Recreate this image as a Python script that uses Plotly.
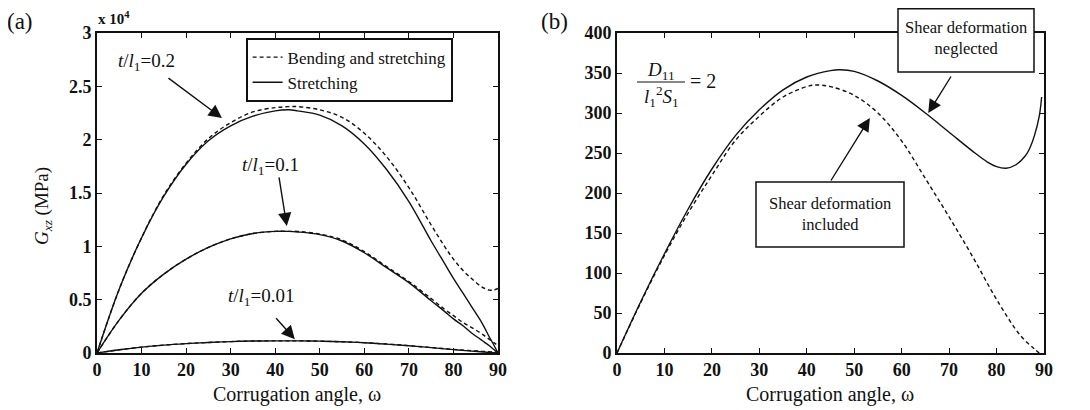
import plotly.graph_objects as go

# ---------------- data (panel a: G_xz in units of 10^4 MPa) ----------------
angle_a = [0, 5, 10, 15, 20, 25, 30, 35, 40, 43, 45, 50, 55, 60, 65, 70, 75, 78, 80, 82, 84,
           86, 87, 88, 89, 90]

stretch_02 = [0, 0.60, 1.08, 1.47, 1.77, 1.99, 2.13, 2.22, 2.27, 2.28, 2.27, 2.23, 2.13, 1.96,
              1.72, 1.42, 1.05, 0.84, 0.70, 0.57, 0.44, 0.31, 0.235, 0.155, 0.08, 0]
bend_02 = [0, 0.60, 1.08, 1.48, 1.78, 2.01, 2.16, 2.26, 2.30, 2.31, 2.31, 2.28, 2.21, 2.06,
           1.84, 1.55, 1.20, 1.00, 0.88, 0.78, 0.70, 0.63, 0.605, 0.59, 0.59, 0.605]

stretch_01 = [0, 0.31, 0.56, 0.74, 0.88, 0.99, 1.07, 1.12, 1.14, 1.14, 1.135, 1.11, 1.05, 0.94,
              0.80, 0.66, 0.49, 0.39, 0.32, 0.26, 0.19, 0.13, 0.10, 0.07, 0.035, 0]
bend_01 = [0, 0.31, 0.56, 0.74, 0.88, 0.99, 1.07, 1.12, 1.14, 1.14, 1.14, 1.115, 1.06, 0.95,
           0.81, 0.67, 0.51, 0.41, 0.35, 0.29, 0.24, 0.19, 0.16, 0.13, 0.10, 0.07]

stretch_001 = [0, 0.030, 0.055, 0.074, 0.088, 0.099, 0.107, 0.112, 0.114, 0.114, 0.114, 0.111,
               0.105, 0.096, 0.083, 0.068, 0.050, 0.039, 0.032, 0.025, 0.018, 0.012, 0.009,
               0.006, 0.003, 0]
bend_001 = [0, 0.030, 0.055, 0.074, 0.088, 0.099, 0.107, 0.112, 0.114, 0.114, 0.114, 0.111,
            0.105, 0.097, 0.084, 0.069, 0.051, 0.041, 0.034, 0.028, 0.022, 0.017, 0.014,
            0.012, 0.010, 0.008]

# ---------------- data (panel b) ----------------
angle_b_neg = [0, 5, 10, 15, 20, 25, 30, 35, 40, 45, 47, 50, 55, 60, 65, 70, 75, 78, 80, 82,
               84, 86, 87, 88, 89, 89.5]
shear_neglected = [0, 64, 124, 180, 230, 272, 304, 329, 345, 353, 354, 352, 340, 322, 300, 276,
                   252, 239, 233, 231, 235, 246, 256, 272, 296, 320]

angle_b_inc = [0, 5, 10, 15, 20, 25, 30, 35, 40, 42, 45, 50, 55, 60, 65, 70, 75, 80, 85, 88, 89]
shear_included = [0, 63, 122, 175, 222, 266, 296, 320, 333, 335, 333, 322, 300, 265, 218, 170,
                  120, 67, 22, 5, 0]

# ---------------- tick labels ----------------
x_ticks = [0, 10, 20, 30, 40, 50, 60, 70, 80, 90]
x_tick_labels = ["0", "10", "20", "30", "40", "50", "60", "70", "80", "90"]
ya_ticks = [0, 0.5, 1, 1.5, 2, 2.5, 3]
ya_tick_labels = ["0", "0.5", "1", "1.5", "2", "2.5", "3"]
yb_ticks = [0, 50, 100, 150, 200, 250, 300, 350, 400]
yb_tick_labels = ["0", "50", "100", "150", "200", "250", "300", "350", "400"]

FONT = "Liberation Serif, Times New Roman, serif"
BLACK = "#111111"

fig = go.Figure()

solid = dict(color=BLACK, width=1.4)
dashed = dict(color=BLACK, width=1.4, dash="4px,3px")

# panel a traces
fig.add_trace(go.Scatter(x=angle_a, y=bend_02, mode="lines", line=dashed, line_shape="spline",
                         name="Bending and stretching", showlegend=True, legendrank=1))
fig.add_trace(go.Scatter(x=angle_a, y=stretch_02, mode="lines", line=solid, line_shape="spline",
                         name="Stretching", showlegend=True, legendrank=2))
for ys, ln in [(bend_01, dashed), (stretch_01, solid), (bend_001, dashed), (stretch_001, solid)]:
    fig.add_trace(go.Scatter(x=angle_a, y=ys, mode="lines", line=ln, line_shape="spline",
                             showlegend=False))

# panel b traces
fig.add_trace(go.Scatter(x=angle_b_neg, y=shear_neglected, mode="lines", line=solid,
                         line_shape="spline", xaxis="x2", yaxis="y2", showlegend=False))
fig.add_trace(go.Scatter(x=angle_b_inc, y=shear_included, mode="lines", line=dashed,
                         line_shape="spline", xaxis="x2", yaxis="y2", showlegend=False))

# the page body has an 8px margin: lay the figure out in screen pixels minus that offset
OFF = 8
W, H = 1090 - OFF, 410 - OFF


def px(x):
    return (x - OFF) / W


def py(y):
    return 1 - (y - OFF) / H


def bold(labels):
    return ["<b>" + s + "</b>" for s in labels]


ydom = [py(353), py(33)]
axis_common = dict(showline=True, linecolor=BLACK, linewidth=1.6, mirror="ticks",
                   ticks="inside", ticklen=5, tickwidth=1.3, tickcolor=BLACK,
                   showgrid=False, zeroline=False, automargin=False, tickmode="array",
                   tickfont=dict(family=FONT, size=18, color=BLACK))

fig.update_layout(
    width=W, height=H, margin=dict(l=0, r=0, t=0, b=0, pad=0, autoexpand=False),
    paper_bgcolor="white", plot_bgcolor="white",
    xaxis=dict(domain=[px(97), px(498)], range=[0, 90], anchor="y", tickvals=x_ticks,
               ticktext=bold(x_tick_labels), **axis_common),
    yaxis=dict(domain=ydom, range=[0, 3], anchor="x", tickvals=ya_ticks,
               ticktext=bold(ya_tick_labels), **axis_common),
    xaxis2=dict(domain=[px(617), px(1044)], range=[0, 90], anchor="y2", tickvals=x_ticks,
                ticktext=bold(x_tick_labels), **axis_common),
    yaxis2=dict(domain=ydom, range=[0, 400], anchor="x2", tickvals=yb_ticks,
                ticktext=bold(yb_tick_labels), **axis_common),
    legend=dict(x=px(246), y=py(38), xanchor="left", yanchor="top",
                bgcolor="white", bordercolor=BLACK, borderwidth=1.6,
                font=dict(family=FONT, size=17, color=BLACK), itemwidth=30,
                entrywidth=215, entrywidthmode="pixels",
                traceorder="normal", tracegroupgap=0),
    showlegend=True,
)

ann = []
txt = dict(family=FONT, size=19, color=BLACK)


def paper_text(text, x, y, font, xanchor="center", **kw):
    return dict(text=text, x=px(x), y=py(y), xref="paper", yref="paper", xanchor=xanchor,
                yanchor="middle", showarrow=False, font=font, **kw)


# panel labels
ann.append(paper_text("(a)", 5, 21, dict(family=FONT, size=23, color=BLACK), xanchor="left"))
ann.append(paper_text("(b)", 539, 21, dict(family=FONT, size=23, color=BLACK), xanchor="left"))
# exponent label
ann.append(paper_text("<b>x 10<sup>4</sup></b>", 96, 18, dict(family=FONT, size=15, color=BLACK),
                      xanchor="left"))
# axis titles
for cx in (297, 830):
    ann.append(paper_text("Corrugation angle, ω", cx, 394, dict(family=FONT, size=20, color=BLACK)))
ann.append(paper_text("<i>G</i><sub><i>xz</i></sub> (MPa)", 43, 206,
                      dict(family=FONT, size=19, color=BLACK), textangle=-90))

# panel a curve labels and arrows
labels_a = [("<i>t</i>/<i>l</i><sub>1</sub>=0.2", 11.2, 2.73),
            ("<i>t</i>/<i>l</i><sub>1</sub>=0.1", 39.0, 1.75),
            ("<i>t</i>/<i>l</i><sub>1</sub>=0.01", 36.8, 0.525)]
for t, x, y in labels_a:
    ann.append(dict(text=t, x=x, y=y, xref="x", yref="y", xanchor="center", yanchor="middle",
                    showarrow=False, font=txt))
arrows_a = [(28.05, 2.203, 15.7, 2.587), (42.6, 1.19, 40.8, 1.66), (44.4, 0.13, 39.9, 0.34)]
for x, y, axx, ayy in arrows_a:
    ann.append(dict(text="", x=x, y=y, ax=axx, ay=ayy, xref="x", yref="y", axref="x", ayref="y",
                    showarrow=True, arrowhead=2, arrowsize=1.9, arrowwidth=1.4, arrowcolor=BLACK))

# panel b fraction label
ann.append(paper_text("<i>D</i><sub>11</sub>", 661, 71, txt))
ann.append(paper_text("<i>l</i><sub>1</sub><sup>2</sup><i>S</i><sub>1</sub>", 661, 97, txt))
ann.append(paper_text("= 2", 688, 81, dict(family=FONT, size=20, color=BLACK), xanchor="left"))

# panel b boxes text
box_font = dict(family=FONT, size=16.5, color=BLACK)
ann.append(paper_text("Shear deformation<br>neglected", 966, 38, box_font, align="center"))
ann.append(paper_text("Shear deformation<br>included", 830, 214, box_font, align="center"))
arrows_b = [(65.6, 300, 70.6, 347.5), (53.3, 293.75, 44.9, 213.75)]
for x, y, axx, ayy in arrows_b:
    ann.append(dict(text="", x=x, y=y, ax=axx, ay=ayy, xref="x2", yref="y2", axref="x2",
                    ayref="y2", showarrow=True, arrowhead=2, arrowsize=1.9, arrowwidth=1.4,
                    arrowcolor=BLACK))

fig.update_layout(annotations=ann)

shapes = [
    # fraction bar
    dict(type="line", xref="paper", yref="paper", x0=px(637), x1=px(685), y0=py(82), y1=py(82),
         line=dict(color=BLACK, width=1.2)),
    # boxes
    dict(type="rect", xref="paper", yref="paper", x0=px(898), x1=px(1034), y0=py(72), y1=py(8.8),
         line=dict(color=BLACK, width=1.5), fillcolor="white", layer="above"),
    dict(type="rect", xref="paper", yref="paper", x0=px(756), x1=px(904), y0=py(247), y1=py(182),
         line=dict(color=BLACK, width=1.5), fillcolor="white", layer="above"),
]
fig.update_layout(shapes=shapes)

fig.write_html("out.html")
